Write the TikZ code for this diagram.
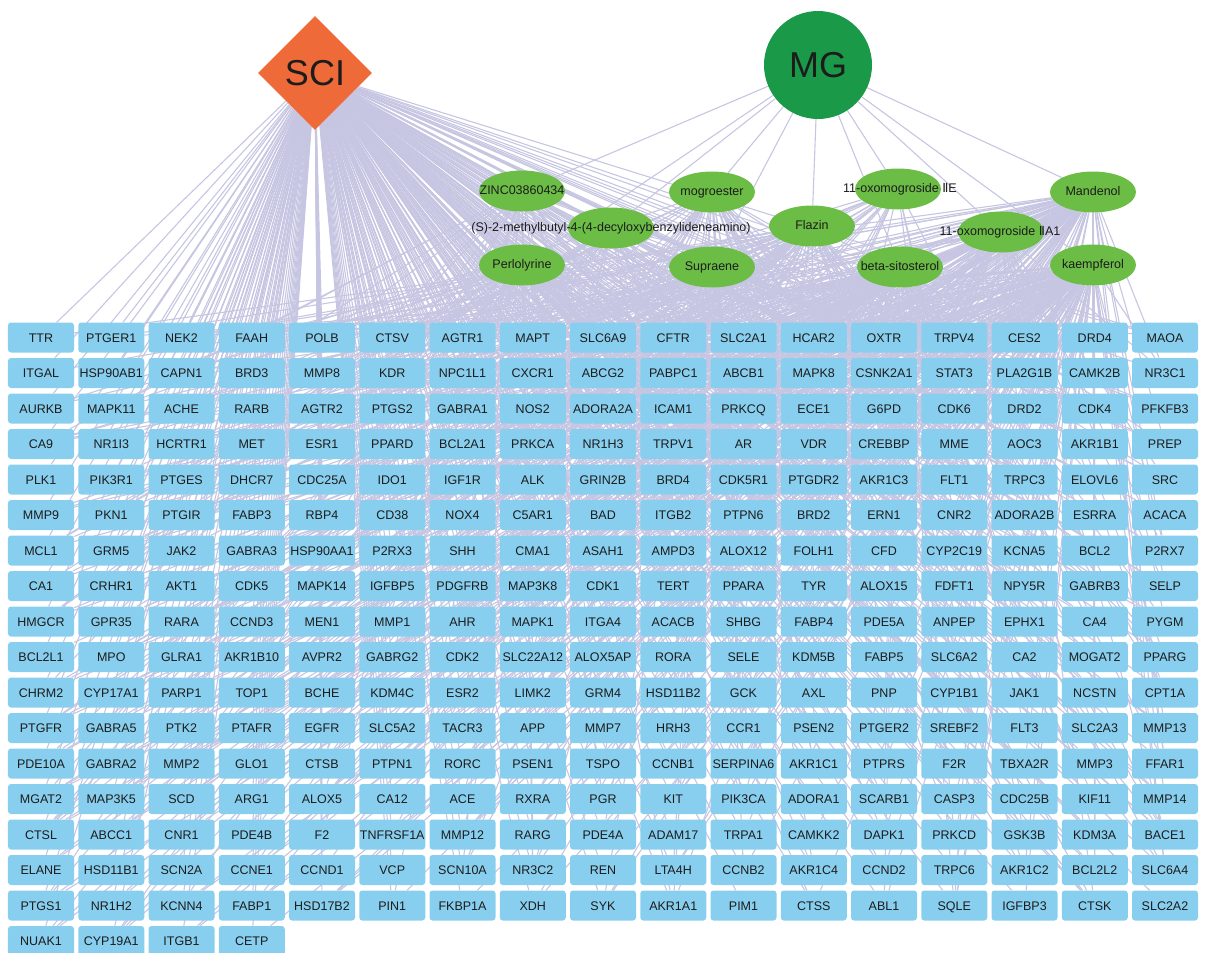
\documentclass[tikz,border=0pt]{standalone}
\usepackage{fontspec}
\setmainfont{Liberation Sans}
\newfontfamily\dejavu{DejaVu Sans}
\usetikzlibrary{shapes.geometric}
\pgfdeclarelayer{edges}
\pgfsetlayers{edges,main}
\definecolor{edgec}{HTML}{C6C6E2}
\definecolor{boxc}{HTML}{88CFEF}
\definecolor{compc}{HTML}{6BBD45}
\definecolor{mgc}{HTML}{1A9A48}
\definecolor{scic}{HTML}{EE6A38}
\definecolor{txt}{HTML}{1C1C1C}
\tikzset{
  edge/.style={draw=edgec, line width=1.1bp},
  tbox/.style={fill=boxc, rounded corners=3bp, minimum width=66bp, minimum height=30bp, inner sep=0pt, text height=9bp, text depth=0bp, text=txt, font=\fontsize{12.5bp}{14bp}\selectfont},
  comp/.style={ellipse, fill=compc, minimum width=86bp, minimum height=41bp, inner sep=0pt},
  ctext/.style={text=txt, inner sep=0pt, text height=9bp, text depth=2.5bp, font=\fontsize{12.5bp}{14bp}\selectfont},
  scinode/.style={diamond, aspect=1, fill=scic, minimum width=114bp, minimum height=114bp, inner sep=0pt, text=txt, font=\fontsize{36bp}{40bp}\selectfont},
  mgnode/.style={circle, fill=mgc, minimum size=108bp, inner sep=0pt, text=txt, font=\fontsize{36bp}{40bp}\selectfont}
}
\begin{document}
\begin{tikzpicture}[x=1bp,y=-1bp]
\useasboundingbox (0,0) rectangle (1213,953);
% hubs
\node[scinode] (SCI) at (315,73) {SCI};
\node[mgnode] (MG) at (818,65) {MG};
% compounds
\node[comp] (c1) at (522,191) {};
\node[comp] (c2) at (712,192) {};
\node[comp] (c3) at (898,189) {};
\node[comp] (c4) at (1093,192) {};
\node[comp] (c5) at (611,228) {};
\node[comp] (c6) at (812,226) {};
\node[comp] (c7) at (1001,232) {};
\node[comp] (c8) at (522,265) {};
\node[comp] (c9) at (712,267) {};
\node[comp] (c10) at (900,267) {};
\node[comp] (c11) at (1093,265) {};
\node[ctext] (l1) at (c1) {ZINC03860434};
\node[ctext] (l2) at (c2) {mogroester};
\node[ctext] (l3) at (900,189) {11-oxomogroside {\dejavu Ⅱ}E};
\node[ctext] (l4) at (c4) {Mandenol};
\node[ctext] (l5) at (c5) {(S)-2-methylbutyl-4-(4-decyloxybenzylideneamino)};
\node[ctext] (l6) at (c6) {Flazin};
\node[ctext] (l7) at (1000,232) {11-oxomogroside {\dejavu Ⅱ}A1};
\node[ctext] (l8) at (c8) {Perlolyrine};
\node[ctext] (l9) at (c9) {Supraene};
\node[ctext] (l10) at (c10) {beta-sitosterol};
\node[ctext] (l11) at (c11) {kaempferol};
% targets
\foreach \row [count=\r from 0] in {
{TTR,PTGER1,NEK2,FAAH,POLB,CTSV,AGTR1,MAPT,SLC6A9,CFTR,SLC2A1,HCAR2,OXTR,TRPV4,CES2,DRD4,MAOA},
{ITGAL,HSP90AB1,CAPN1,BRD3,MMP8,KDR,NPC1L1,CXCR1,ABCG2,PABPC1,ABCB1,MAPK8,CSNK2A1,STAT3,PLA2G1B,CAMK2B,NR3C1},
{AURKB,MAPK11,ACHE,RARB,AGTR2,PTGS2,GABRA1,NOS2,ADORA2A,ICAM1,PRKCQ,ECE1,G6PD,CDK6,DRD2,CDK4,PFKFB3},
{CA9,NR1I3,HCRTR1,MET,ESR1,PPARD,BCL2A1,PRKCA,NR1H3,TRPV1,AR,VDR,CREBBP,MME,AOC3,AKR1B1,PREP},
{PLK1,PIK3R1,PTGES,DHCR7,CDC25A,IDO1,IGF1R,ALK,GRIN2B,BRD4,CDK5R1,PTGDR2,AKR1C3,FLT1,TRPC3,ELOVL6,SRC},
{MMP9,PKN1,PTGIR,FABP3,RBP4,CD38,NOX4,C5AR1,BAD,ITGB2,PTPN6,BRD2,ERN1,CNR2,ADORA2B,ESRRA,ACACA},
{MCL1,GRM5,JAK2,GABRA3,HSP90AA1,P2RX3,SHH,CMA1,ASAH1,AMPD3,ALOX12,FOLH1,CFD,CYP2C19,KCNA5,BCL2,P2RX7},
{CA1,CRHR1,AKT1,CDK5,MAPK14,IGFBP5,PDGFRB,MAP3K8,CDK1,TERT,PPARA,TYR,ALOX15,FDFT1,NPY5R,GABRB3,SELP},
{HMGCR,GPR35,RARA,CCND3,MEN1,MMP1,AHR,MAPK1,ITGA4,ACACB,SHBG,FABP4,PDE5A,ANPEP,EPHX1,CA4,PYGM},
{BCL2L1,MPO,GLRA1,AKR1B10,AVPR2,GABRG2,CDK2,SLC22A12,ALOX5AP,RORA,SELE,KDM5B,FABP5,SLC6A2,CA2,MOGAT2,PPARG},
{CHRM2,CYP17A1,PARP1,TOP1,BCHE,KDM4C,ESR2,LIMK2,GRM4,HSD11B2,GCK,AXL,PNP,CYP1B1,JAK1,NCSTN,CPT1A},
{PTGFR,GABRA5,PTK2,PTAFR,EGFR,SLC5A2,TACR3,APP,MMP7,HRH3,CCR1,PSEN2,PTGER2,SREBF2,FLT3,SLC2A3,MMP13},
{PDE10A,GABRA2,MMP2,GLO1,CTSB,PTPN1,RORC,PSEN1,TSPO,CCNB1,SERPINA6,AKR1C1,PTPRS,F2R,TBXA2R,MMP3,FFAR1},
{MGAT2,MAP3K5,SCD,ARG1,ALOX5,CA12,ACE,RXRA,PGR,KIT,PIK3CA,ADORA1,SCARB1,CASP3,CDC25B,KIF11,MMP14},
{CTSL,ABCC1,CNR1,PDE4B,F2,TNFRSF1A,MMP12,RARG,PDE4A,ADAM17,TRPA1,CAMKK2,DAPK1,PRKCD,GSK3B,KDM3A,BACE1},
{ELANE,HSD11B1,SCN2A,CCNE1,CCND1,VCP,SCN10A,NR3C2,REN,LTA4H,CCNB2,AKR1C4,CCND2,TRPC6,AKR1C2,BCL2L2,SLC6A4},
{PTGS1,NR1H2,KCNN4,FABP1,HSD17B2,PIN1,FKBP1A,XDH,SYK,AKR1A1,PIM1,CTSS,ABL1,SQLE,IGFBP3,CTSK,SLC2A2},
{NUAK1,CYP19A1,ITGB1,CETP}}
{
  \foreach \t [count=\c from 0] in \row {
    \node[tbox] (t-\r-\c) at ({41+70.25*\c},{337.5+35.5*\r}) {\t};
  }
}
% edges
\begin{pgfonlayer}{edges}
\foreach \k in {1,...,11} \draw[edge] (MG) -- (c\k);
\foreach \r in {0,...,17} {
  \pgfmathtruncatemacro\nc{\r==17 ? 3 : 16}
  \foreach \c in {0,...,\nc} \draw[edge] (SCI) -- (t-\r-\c);
}
\pgfmathsetseed{11}
\foreach \nm/\p in {c1/0.14,c2/0.14,c3/0.08,c4/0.38,c5/0.13,c6/0.27,c7/0.16,c8/0.22,c9/0.16,c10/0.35,c11/0.48} {
  \foreach \r in {0,...,17} {
    \pgfmathtruncatemacro\nc{\r==17 ? 3 : 16}
    \foreach \c in {0,...,\nc} {
      \pgfmathtruncatemacro\hit{rnd<\p ? 1 : 0}
      \ifnum\hit=1 \draw[edge] (\nm) -- (t-\r-\c); \fi
    }
  }
}
\end{pgfonlayer}
\end{tikzpicture}
\end{document}
